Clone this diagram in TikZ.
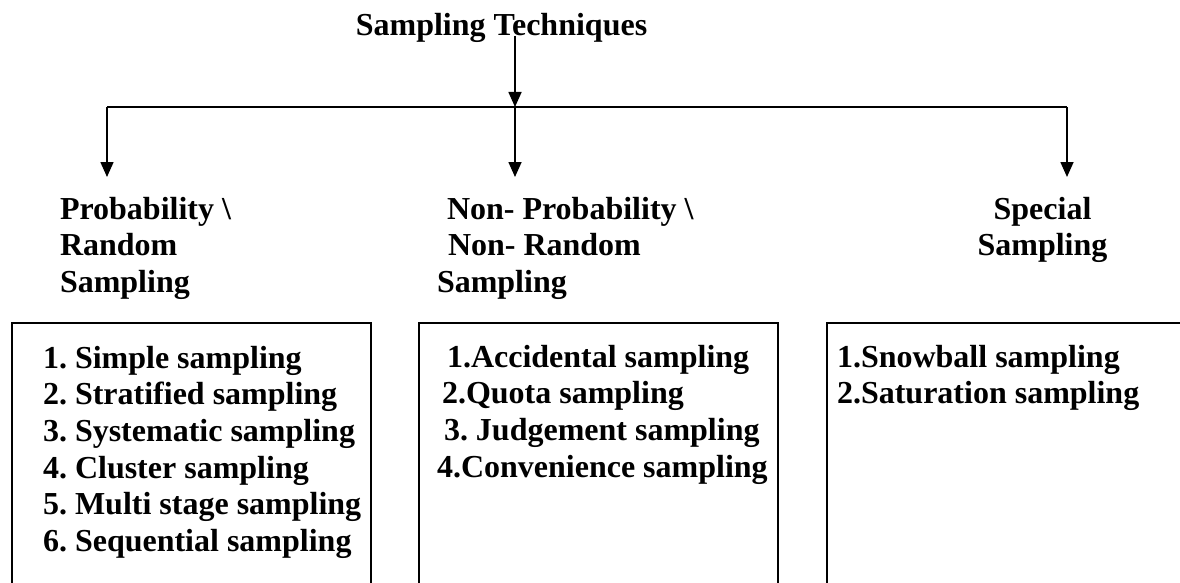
\documentclass[tikz,border=0pt]{standalone}
\usepackage{fontspec}
\setmainfont{Liberation Serif}
\usetikzlibrary{arrows.meta}
\frenchspacing
\tikzset{
  txt/.style={font=\fontsize{32}{36.7}\selectfont\bfseries\frenchspacing, inner sep=0pt, outer sep=0pt},
  conn/.style={line width=1.6pt, draw=black},
  arr/.style={conn, -{Triangle[length=15pt,width=13pt]}},
  boxline/.style={line width=1.6pt, draw=black},
}
\newcommand{\lst}[1]{\begin{tabular}[t]{@{}l@{}}#1\end{tabular}}
\begin{document}
\begin{tikzpicture}[x=1pt,y=-1pt]
\useasboundingbox (0,0) rectangle (1180,583);
\clip (0,0) rectangle (1180,583);
\fill[white] (0,0) rectangle (1180,583);

% title
\node[txt, anchor=base] (title) at (501.5,36) {Sampling Techniques};

% junction and tips
\coordinate (jn) at (515,107);
\coordinate (hl) at (107,107);
\coordinate (hr) at (1067,107);
\coordinate (tl) at (107,177);
\coordinate (tm) at (515,177);
\coordinate (tr) at (1067,177);

\draw[arr] (title.base -| jn) -- (jn);
\draw[conn] (hl) -- (hr);
\draw[arr] (hl) -- (tl);
\draw[arr] (jn) -- (tm);
\draw[arr] (hr) -- (tr);

% category labels
\node[txt, anchor=base west] (prob) at (60,219)
  {\lst{Probability \textbackslash\\ Random\\ Sampling}};
\node[txt, anchor=base west] (nonprob) at (437,219)
  {\lst{\hspace*{10pt}Non- Probability \textbackslash\\ \hspace*{11pt}Non- Random\\ Sampling}};
\node[txt, anchor=base, align=center] (special) at (1042.5,219)
  {\begin{tabular}[t]{@{}c@{}}Special\\ Sampling\end{tabular}};

% boxes
\draw[boxline] (12,600) -- (12,323) -- (371,323) -- (371,600);
\draw[boxline] (419,600) -- (419,323) -- (778,323) -- (778,600);
\draw[boxline] (827,600) -- (827,323) -- (1200,323);

% lists
\node[txt, anchor=base west] (list1) at (43,368)
  {\lst{1. Simple sampling\\ 2. Stratified sampling\\ 3. Systematic sampling\\ 4. Cluster sampling\\ 5. Multi stage sampling\\ 6. Sequential sampling}};
\node[txt, anchor=base west] (list2) at (437,367)
  {\lst{\hspace*{10pt}1.Accidental sampling\\ \hspace*{5pt}2.Quota sampling\\ \hspace*{7pt}3. Judgement sampling\\ 4.Convenience sampling}};
\node[txt, anchor=base west] (list3) at (837,367)
  {\lst{1.Snowball sampling\\ 2.Saturation sampling}};
\end{tikzpicture}
\end{document}
